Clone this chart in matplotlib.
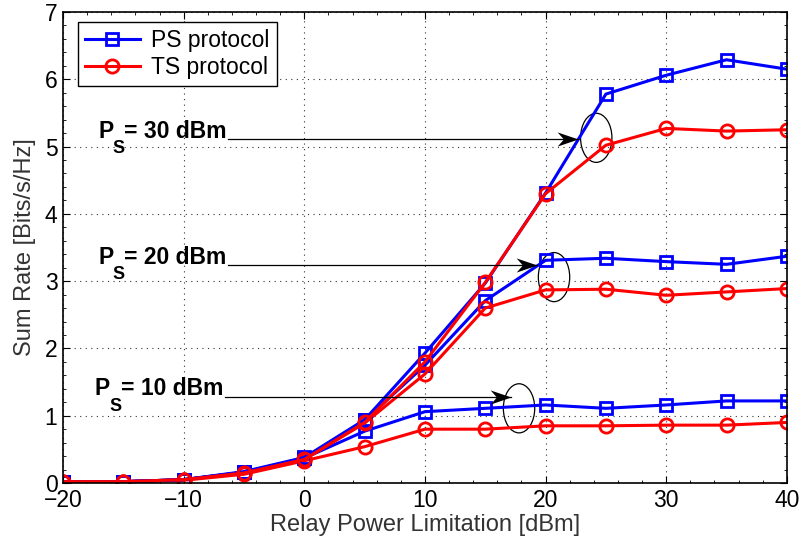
import numpy as np
import matplotlib
matplotlib.use('Agg')
import matplotlib.pyplot as plt
from matplotlib.patches import Ellipse
from matplotlib.path import Path
from matplotlib.ticker import MultipleLocator

plt.rcParams['font.family'] = ['Liberation Sans', 'DejaVu Sans']

# relay power limitation [dBm]
relay_power = [-20, -15, -10, -5, 0, 5, 10, 15, 20, 25, 30, 35, 40]

# sum rate [bits/s/Hz], one list per source power / protocol
ps_10 = [0.02, 0.02, 0.05, 0.16, 0.37, 0.77, 1.06, 1.11, 1.16, 1.11, 1.16, 1.22, 1.22]
ts_10 = [0.02, 0.02, 0.04, 0.13, 0.33, 0.54, 0.80, 0.80, 0.85, 0.85, 0.86, 0.86, 0.90]
ps_20 = [0.02, 0.02, 0.05, 0.16, 0.37, 0.93, 1.75, 2.71, 3.31, 3.34, 3.29, 3.25, 3.37]
ts_20 = [0.02, 0.02, 0.05, 0.15, 0.35, 0.89, 1.62, 2.60, 2.87, 2.88, 2.79, 2.84, 2.89]
ps_30 = [0.02, 0.02, 0.05, 0.17, 0.38, 0.94, 1.93, 2.97, 4.31, 5.78, 6.06, 6.29, 6.15]
ts_30 = [0.02, 0.02, 0.05, 0.15, 0.35, 0.90, 1.80, 2.98, 4.30, 5.02, 5.27, 5.23, 5.25]

series = [(ps_10, ts_10), (ps_20, ts_20), (ps_30, ts_30)]

# annotation labels: text, arrow y, arrow tip x, ellipse centre
annot_labels = ['= 10 dBm', '= 20 dBm', '= 30 dBm']
annot_y = [1.28, 3.24, 5.11]
annot_tip_x = [17.1, 19.3, 22.7]
annot_text_x = [-17.4, -17.1, -17.1]
annot_line_x = [-6.6, -6.3, -6.3]
ellipse_xy = [(17.8, 1.11), (20.7, 3.06), (24.2, 5.13)]

# matlab-like notched arrow head, tip at the origin
head = Path([(0, 0), (-1, 0.34), (-0.7, 0), (-1, -0.34), (0, 0)],
            [Path.MOVETO, Path.LINETO, Path.LINETO, Path.LINETO, Path.CLOSEPOLY])

fig = plt.figure(figsize=(8.02, 5.5), dpi=100)
ax = fig.add_axes([0.0786, 0.1218, 0.9025, 0.8564])

lw = 2.2
for i, (ps, ts) in enumerate(series):
    ax.plot(relay_power, ps, color='#0000ff', marker='s', markersize=8, markerfacecolor='none',
            markeredgewidth=2, linewidth=lw, label='PS protocol' if i == 0 else None)
    ax.plot(relay_power, ts, color='#ff0000', marker='o', markersize=9.5, markerfacecolor='none',
            markeredgewidth=2, linewidth=lw, label='TS protocol' if i == 0 else None)

fs_annot = 16.5
for i in range(3):
    y = annot_y[i]
    ax.annotate('P', xy=(annot_text_x[i], y), xytext=(0, 1), textcoords='offset points',
                fontsize=fs_annot, fontweight='bold', ha='left', va='baseline')
    ax.annotate('S', xy=(annot_text_x[i], y), xytext=(10.6, -10), textcoords='offset points',
                fontsize=13, fontweight='bold', ha='left', va='baseline')
    ax.annotate(annot_labels[i], xy=(annot_text_x[i], y), xytext=(19.0, 1), textcoords='offset points',
                fontsize=fs_annot, fontweight='bold', ha='left', va='baseline')
    ax.plot([annot_line_x[i], annot_tip_x[i]], [y, y], color='black', lw=0.9)
    ax.plot([annot_tip_x[i]], [y], marker=head, markersize=30, color='black', markeredgewidth=0)
    ax.add_patch(Ellipse(ellipse_xy[i], width=2.6, height=0.73, fill=False, edgecolor='black', lw=0.9))

ax.set_xlim(-20, 40)
ax.set_ylim(0, 7)
ax.set_xticks([-20, -10, 0, 10, 20, 30, 40])
ax.set_xticklabels(['\u221220', '\u221210', '0', '10', '20', '30', '40'])
ax.yaxis.set_major_locator(MultipleLocator(1))
ax.xaxis.set_minor_locator(MultipleLocator(2))
ax.yaxis.set_minor_locator(MultipleLocator(0.2))
ax.tick_params(which='both', direction='in', top=True, right=True, labelsize=16.5, colors='black', pad=4)
ax.tick_params(which='major', length=5)
ax.tick_params(which='minor', length=2.5)
ax.grid(True, which='major', linestyle=(0, (1, 4)), color='#333333', linewidth=0.8)
for s in ax.spines.values():
    s.set_linewidth(1.2)

ax.set_xlabel('Relay Power Limitation [dBm]', fontsize=17, color='#333333', labelpad=2)
ax.set_ylabel('Sum Rate [Bits/s/Hz]', fontsize=17, color='#333333', labelpad=6)

leg = ax.legend(loc='upper left', bbox_to_anchor=(0.0207, 0.979), fontsize=16.5, fancybox=False,
                framealpha=1, edgecolor='black', handlelength=2.4, borderaxespad=0,
                labelspacing=0.2, handletextpad=0.5, borderpad=0.3)
leg.get_frame().set_linewidth(1.0)

fig.savefig('out.png', dpi=100)
